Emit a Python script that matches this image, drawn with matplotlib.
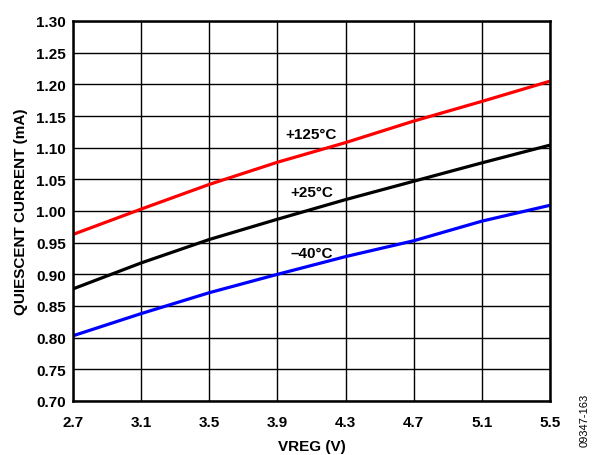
import matplotlib
matplotlib.use("Agg")
import matplotlib.pyplot as plt
import numpy as np

plt.rcParams['font.family'] = ['Liberation Sans', 'DejaVu Sans']

vreg = [2.7, 3.1, 3.5, 3.9, 4.3, 4.7, 5.1, 5.5]
i_125 = [0.963, 1.003, 1.042, 1.077, 1.108, 1.142, 1.173, 1.205]
i_25 = [0.877, 0.918, 0.955, 0.987, 1.018, 1.047, 1.076, 1.104]
i_m40 = [0.803, 0.838, 0.871, 0.900, 0.928, 0.953, 0.984, 1.009]

xticks = [2.7, 3.1, 3.5, 3.9, 4.3, 4.7, 5.1, 5.5]
yticks = [0.70, 0.75, 0.80, 0.85, 0.90, 0.95, 1.00, 1.05, 1.10, 1.15, 1.20, 1.25, 1.30]

FS = 11

fig = plt.figure(figsize=(5.95, 4.56), dpi=100)
ax = fig.add_axes([73/595, 1 - 402/456, (550-73)/595, (402-22)/456])

ax.plot(vreg, i_125, color='#ff0000', lw=2.3, solid_capstyle='butt')
ax.plot(vreg, i_25, color='#000000', lw=2.3, solid_capstyle='butt')
ax.plot(vreg, i_m40, color='#0000ff', lw=2.3, solid_capstyle='butt')

ax.set_xlim(2.7, 5.5)
ax.set_ylim(0.70, 1.30)
ax.set_xticks(xticks)
ax.set_yticks(yticks)
ax.set_xticklabels([f"{v:.1f}" for v in xticks], fontweight='bold', fontsize=FS)
ax.set_yticklabels([f"{v:.2f}" for v in yticks], fontweight='bold', fontsize=FS)
ax.tick_params(axis='x', length=0, pad=10)
ax.tick_params(axis='y', length=0, pad=5)
ax.grid(True, color='#000000', lw=1.0)
ax.set_axisbelow(True)
for s in ax.spines.values():
    s.set_linewidth(1.8)

ax.text(4.10, 1.121, '+125°C', ha='center', va='center', fontweight='bold', fontsize=FS)
ax.text(4.10, 1.0295, '+25°C', ha='center', va='center', fontweight='bold', fontsize=FS)
ax.text(4.10, 0.933, '\u201340°C', ha='center', va='center', fontweight='bold', fontsize=FS)

ax.set_xlabel('VREG (V)', fontweight='bold', fontsize=FS, labelpad=7)
ax.set_ylabel('QUIESCENT CURRENT (mA)', fontweight='bold', fontsize=FS, labelpad=6)

fig.text(585/595, 1 - 420/456, '09347-163', rotation=90, ha='center', va='center', fontsize=8)

fig.savefig('out.png', dpi=100)
